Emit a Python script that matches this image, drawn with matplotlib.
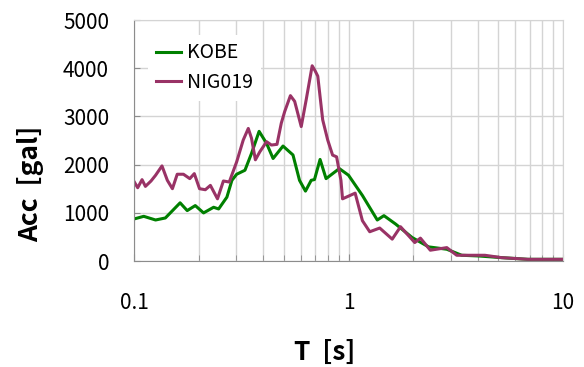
import matplotlib
matplotlib.use('Agg')
import matplotlib.pyplot as plt
from matplotlib.ticker import LogLocator, FixedLocator, NullFormatter

plt.rcParams['font.family'] = ['Noto Sans CJK JP', 'DejaVu Sans']

# --- spectra
kobe_t = [0.100, 0.111, 0.126, 0.140, 0.164, 0.177, 0.193, 0.211, 0.235, 0.248,
          0.271, 0.286, 0.301, 0.329, 0.353, 0.383, 0.415, 0.445, 0.495, 0.551,
          0.591, 0.630, 0.670, 0.694, 0.737, 0.786, 0.906, 1.000, 1.161, 1.362,
          1.463, 1.658, 1.979, 2.364, 2.873, 3.372, 4.027, 5.164, 6.865, 10.0]
kobe_acc = [872, 927, 851, 893, 1207, 1046, 1150, 998, 1115, 1080,
            1325, 1674, 1800, 1883, 2232, 2690, 2440, 2127, 2385, 2200,
            1674, 1450, 1674, 1690, 2107, 1709, 1918, 1780, 1360, 851,
            941, 767, 488, 293, 244, 119, 105, 70, 35, 35]

nig_t = [0.100, 0.104, 0.109, 0.113, 0.120, 0.126, 0.135, 0.143, 0.151, 0.159,
         0.170, 0.182, 0.191, 0.202, 0.215, 0.227, 0.245, 0.261, 0.278, 0.301,
         0.323, 0.341, 0.353, 0.368, 0.386, 0.415, 0.437, 0.464, 0.486, 0.504,
         0.536, 0.561, 0.602, 0.635, 0.677, 0.698, 0.719, 0.758, 0.800, 0.843,
         0.880, 0.922, 0.938, 1.074, 1.161, 1.256, 1.398, 1.599, 1.748, 2.037,
         2.164, 2.407, 2.873, 3.196, 4.325, 5.164, 6.865, 10.0]
nig_acc = [1650, 1520, 1688, 1548, 1660, 1778, 1973, 1674, 1500, 1800,
           1800, 1709, 1813, 1500, 1479, 1569, 1290, 1660, 1639, 2057,
           2510, 2750, 2546, 2100, 2266, 2475, 2406, 2420, 2860, 3100,
           3431, 3312, 2789, 3347, 4050, 3950, 3835, 2929, 2510, 2197,
           2161, 1674, 1290, 1408, 837, 607, 684, 454, 711, 383,
           475, 224, 278, 119, 119, 70, 35, 35]

fig = plt.figure(figsize=(5.84, 3.67), dpi=100)
ax = fig.add_axes([0.2295, 0.2888, 0.7345, 0.6567])

ax.plot(kobe_t, kobe_acc, color='#008000', lw=2.2, label='KOBE')
ax.plot(nig_t, nig_acc, color='#993366', lw=2.2, label='NIG019')

ax.set_xscale('log')
ax.set_xlim(0.1, 10)
ax.set_ylim(0, 5000)
ax.set_yticks(range(0, 5001, 1000))
ax.xaxis.set_major_locator(FixedLocator([0.1, 1, 10]))
ax.xaxis.set_minor_locator(LogLocator(base=10, subs=range(2, 10)))
ax.xaxis.set_minor_formatter(NullFormatter())
ax.set_xticklabels(['0.1', '1', '10'])

ax.grid(True, which='both', color='#d4d4d4', lw=1)
ax.set_axisbelow(True)
for s in ['top', 'right']:
    ax.spines[s].set_color('#d4d4d4')
for s in ['left', 'bottom']:
    ax.spines[s].set_color('#8c8c8c')

ax.tick_params(axis='both', which='both', direction='in', color='#8c8c8c', labelsize=15)
ax.tick_params(axis='x', which='major', length=5, pad=22)
ax.tick_params(axis='x', which='minor', length=4)
ax.tick_params(axis='y', length=4, pad=18)

ax.set_xlabel('T  [s]', fontsize=19, fontweight='bold')
ax.set_ylabel('Acc  [gal]', fontsize=19, fontweight='bold')
ax.xaxis.set_label_coords(0.445, -0.378)
ax.yaxis.set_label_coords(-0.242, 0.32)
ax.xaxis.label.set_va('center')
ax.yaxis.label.set_va('center')

leg = ax.legend(loc='upper left', bbox_to_anchor=(0.01, 0.98), fontsize=14,
                frameon=True, fancybox=False, handlelength=1.3, handletextpad=0.3,
                labelspacing=0.45, borderpad=0.4)
leg.get_frame().set_facecolor('white')
leg.get_frame().set_edgecolor('none')
leg.get_frame().set_alpha(1)

plt.savefig('out.png', dpi=100)
